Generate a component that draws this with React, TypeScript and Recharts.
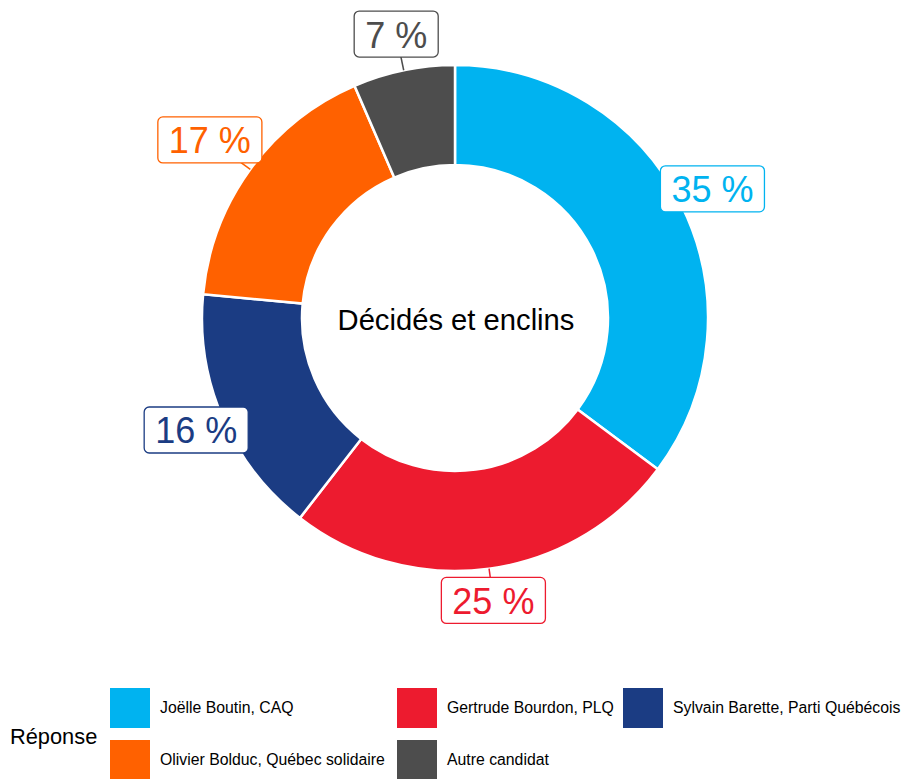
import { PieChart, Pie, Cell, Legend } from 'recharts';

// Values (share of "décidés et enclins")
const candidates = [
  'Joëlle Boutin, CAQ',
  'Gertrude Bourdon, PLQ',
  'Sylvain Barette, Parti Québécois',
  'Olivier Bolduc, Québec solidaire',
  'Autre candidat',
];
const shares = [35.2, 25.3, 16.0, 17.0, 6.5];
const labels = ['35 %', '25 %', '16 %', '17 %', '7 %'];
const colors = ['#00B3F0', '#ED1B2F', '#1B3C83', '#FF6100', '#4D4D4D'];

const centerTitle = 'Décidés et enclins';
const legendTitle = 'Réponse';

const data = candidates.map((name, i) => ({ name, value: shares[i], label: labels[i] }));

const FONT = '"Liberation Sans", Arial, sans-serif';
const RADIAN = Math.PI / 180;
// how far each label box sits outside the ring (repelled a bit differently each)
const labelOffsets = [35, 32, 29, 50, 37];

// rough Arial widths, good enough to size the label boxes
const textWidth = (s: string, size: number) => {
  let w = 0;
  for (const ch of s) {
    if (ch === ' ') w += 0.278;
    else if (ch === '%') w += 0.889;
    else w += 0.556;
  }
  return w * size;
};

const renderLabel = (props: any) => {
  const { cx, cy, midAngle, outerRadius, index } = props;
  const color = colors[index];
  const text = labels[index];
  const r = outerRadius + labelOffsets[index];
  const x = cx + r * Math.cos(-midAngle * RADIAN);
  const y = cy + r * Math.sin(-midAngle * RADIAN);
  const sx = cx + outerRadius * Math.cos(-midAngle * RADIAN);
  const sy = cy + outerRadius * Math.sin(-midAngle * RADIAN);
  const fs = 36;
  const w = textWidth(text, fs) + 22;
  const h = 46;
  return (
    <g key={`lbl-${index}`}>
      <line x1={sx} y1={sy} x2={x} y2={y} stroke={color} strokeWidth={1.5} />
      <rect x={x - w / 2} y={y - h / 2} width={w} height={h} rx={5} ry={5}
        fill="#ffffff" stroke={color} strokeWidth={1.3} />
      <text x={x} y={y + 1} textAnchor="middle" dominantBaseline="central"
        fill={color} fontSize={fs} fontFamily={FONT}>
        {text}
      </text>
    </g>
  );
};

const renderLegend = () => {
  const col = [110, 397, 623];
  const row = [688, 740];
  return (
    <div style={{ position: 'relative', width: 903, height: 100, fontFamily: FONT }}>
      <div style={{ position: 'absolute', left: 10, top: 724, fontSize: 21.8, color: '#000' }}>
        {legendTitle}
      </div>
      {candidates.map((name, i) => {
        const left = col[i % 3];
        const top = row[Math.floor(i / 3)];
        return (
          <div key={name} style={{ position: 'absolute', left, top, display: 'flex', alignItems: 'center' }}>
            <div style={{ width: 40, height: 40, background: colors[i] }} />
            <span style={{ marginLeft: 10, fontSize: 15.8, color: '#000', whiteSpace: 'nowrap' }}>{name}</span>
          </div>
        );
      })}
    </div>
  );
};

export default function App() {
  return (
    <div style={{ position: 'absolute', left: 0, top: 0, width: 903, height: 779, background: '#fff' }}>
      <PieChart width={903} height={779} margin={{ top: 0, right: 0, bottom: 0, left: 0 }}>
        <Pie
          data={data}
          dataKey="value"
          nameKey="name"
          cx={455}
          cy={318}
          innerRadius={153}
          outerRadius={253}
          startAngle={90}
          endAngle={-270}
          stroke="#ffffff"
          strokeWidth={2.5}
          label={renderLabel}
          labelLine={false}
          isAnimationActive={false}
        >
          {data.map((d, i) => (
            <Cell key={d.name} fill={colors[i]} />
          ))}
        </Pie>
        <text x={456} y={320} textAnchor="middle" dominantBaseline="central"
          fontSize={29.2} fontFamily={FONT} fill="#000">
          {centerTitle}
        </text>
        <Legend content={renderLegend} wrapperStyle={{ position: 'absolute', left: 0, top: 0, width: 903 }} />
      </PieChart>
    </div>
  );
}
